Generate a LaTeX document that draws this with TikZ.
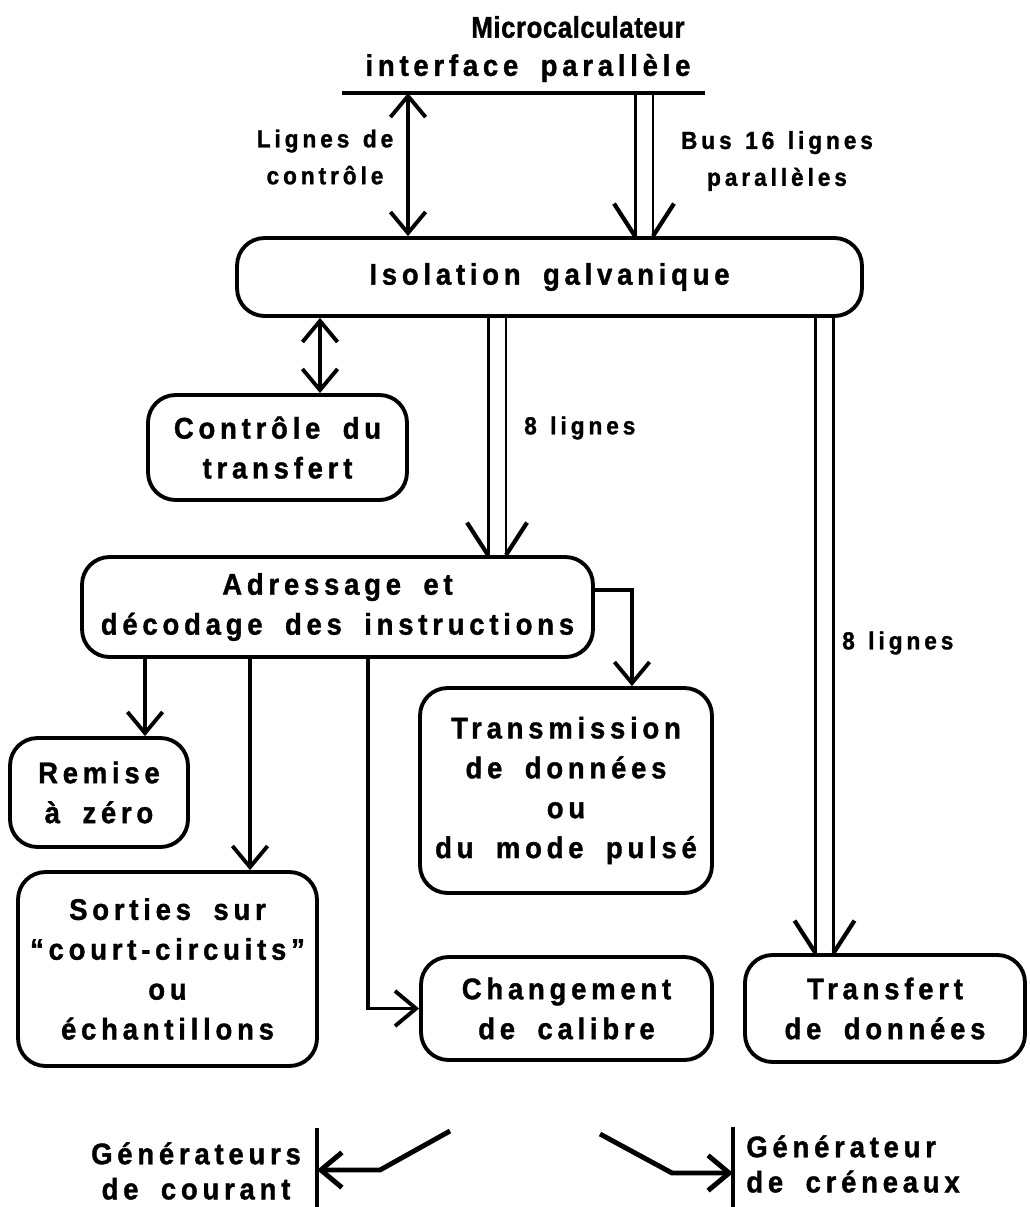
\documentclass[tikz,border=0pt]{standalone}
\usepackage{fontspec}
\setmainfont{Liberation Sans}[UprightFont=* Bold,BoldFont=* Bold,FakeStretch=0.92,FakeBold=1.2,LetterSpace=16]
\newfontfamily\tightfont{Liberation Sans}[UprightFont=* Bold,BoldFont=* Bold,FakeStretch=0.86,FakeBold=1.2,LetterSpace=2]
\usetikzlibrary{arrows.meta}

% fonts of the boxes and of the small labels
\newcommand\boxfont{\fontsize{17}{22.7}\selectfont\spaceskip 0.75em\relax}
\newcommand\labfont{\fontsize{14}{21}\selectfont\spaceskip 0.55em\relax}

% double-line bus with an open head, #1 start, #2 end (coordinate names)
\newcommand\bus[2]{%
  \draw[line width=1.7pt] ([xshift=-0.18cm]#1) -- ([xshift=-0.18cm]#2);
  \draw[line width=1.7pt] ([xshift=0.18cm]#1) -- ([xshift=0.18cm]#2);
  \draw[line width=2.4pt] ([xshift=-0.6cm,yshift=0.65cm]#2) -- ([xshift=-0.18cm]#2);
  \draw[line width=2.4pt] ([xshift=0.6cm,yshift=0.65cm]#2) -- ([xshift=0.18cm]#2);}

\tikzset{
  blk/.style={draw,line width=2.2pt,rounded corners=0.55cm,align=center,inner sep=0pt},
  lab/.style={font=\labfont,align=center},
  gen/.style={font=\fontsize{17}{20}\selectfont\spaceskip 0.75em\relax,inner sep=0pt},
  arr/.style={line width=2.2pt,-{Straight Barb[length=12pt,width=20pt]}},
  darr/.style={line width=2.2pt,{Straight Barb[length=12pt,width=20pt]}-{Straight Barb[length=12pt,width=20pt]}},
}

\begin{document}
\begin{tikzpicture}[x=0.02cm,y=-0.02cm,
    every node/.style={font=\boxfont}]
  \useasboundingbox (0,0) rectangle (1029,1207);

  % microcalculateur
  \node[font=\tightfont\fontsize{17}{22.7}\selectfont] (mc) at (578,27) {Microcalculateur};
  \node (itf) at (528,68) {interface parallèle};
  \coordinate (mcL) at (342,93);
  \coordinate (mcR) at (705,93);
  \draw[line width=2.2pt] (mcL) -- (mcR);

  % boxes
  \node[blk,minimum width=12.5cm,minimum height=1.56cm] (iso) at (549.5,277) {Isolation galvanique};
  \node[blk,minimum width=5.18cm,minimum height=2.1cm] (ctrl) at (277.5,447.5) {Contrôle du\\transfert};
  \node[blk,minimum width=10.22cm,minimum height=2cm] (adr) at (337.5,607) {Adressage et\\décodage des instructions};
  \node[blk,minimum width=5.84cm,minimum height=4.1cm] (trans) at (566,790.5) {Transmission\\de données\\ou\\du mode pulsé};
  \node[blk,minimum width=3.56cm,minimum height=2.18cm] (rz) at (99,792.5) {Remise\\à zéro};
  \node[blk,minimum width=5.98cm,minimum height=3.88cm] (sort) at (167.5,969) {Sorties sur\\“court-circuits”\\ou\\échantillons};
  \node[blk,minimum width=5.82cm,minimum height=2.06cm] (calib) at (566.5,1008.5) {Changement\\de calibre};
  \node[blk,minimum width=5.6cm,minimum height=2.14cm] (xfer) at (885,1008.5) {Transfert\\de données};

  % lines from the microcalculateur
  \coordinate (lc) at (408,93);
  \draw[darr] (lc) -- (lc |- iso.north);
  \node[lab] (lcl) at (325,157) {Lignes de\\contrôle};
  \coordinate (b16) at (644,93);
  \coordinate (b16e) at (b16 |- iso.north);
  \bus{b16}{b16e}
  \node[lab] (b16l) at (777,161) {Bus 16 lignes\\parallèles};

  % isolation to the rest
  \coordinate (ca) at ([xshift=0.85cm]ctrl.north);
  \draw[darr] (ca |- iso.south) -- (ca);
  \path (497,0) coordinate (t8);
  \coordinate (b8s) at (iso.south -| t8);
  \coordinate (b8e) at (adr.north -| t8);
  \bus{b8s}{b8e}
  \node[lab,anchor=west] (b8l) at (518,428) {8 lignes};
  \path (824.5,0) coordinate (t8r);
  \coordinate (b8rs) at (iso.south -| t8r);
  \coordinate (b8re) at (xfer.north -| t8r);
  \bus{b8rs}{b8re}
  \node[lab,anchor=west] (b8rl) at (836,643) {8 lignes};

  % adressage outputs
  \draw[arr] ([yshift=0.34cm]adr.east) -| ([xshift=1.32cm]trans.north);
  \coordinate (a1) at (145,0);
  \draw[arr] (adr.south -| a1) -- (rz.north -| a1);
  \coordinate (a2) at (250,0);
  \draw[arr] (adr.south -| a2) -- (sort.north -| a2);
  \coordinate (a3) at (368,0);
  \draw[arr] (adr.south -| a3) |- (calib.west);

  % generateurs
  \node[gen,align=center] (gc) at (196,1171) {Générateurs\\de courant};
  \coordinate (gcT) at (317,1128);
  \coordinate (gcB) at (317,1207);
  \draw[line width=2.2pt] (gcT) -- (gcB);
  \coordinate (gca) at (450,1131);
  \draw[arr,line width=2.8pt] (gca) -- (380,1170) -- (gcT |- 0,1170);
  \node[gen,align=left,anchor=west] (gcr) at (746,1164) {Générateur\\de créneaux};
  \coordinate (grT) at (733,1127);
  \coordinate (grB) at (733,1207);
  \draw[line width=2.2pt] (grT) -- (grB);
  \coordinate (gra) at (600,1134);
  \draw[arr,line width=2.8pt] (gra) -- (672,1173) -- (grT |- 0,1173);
\end{tikzpicture}
\end{document}
